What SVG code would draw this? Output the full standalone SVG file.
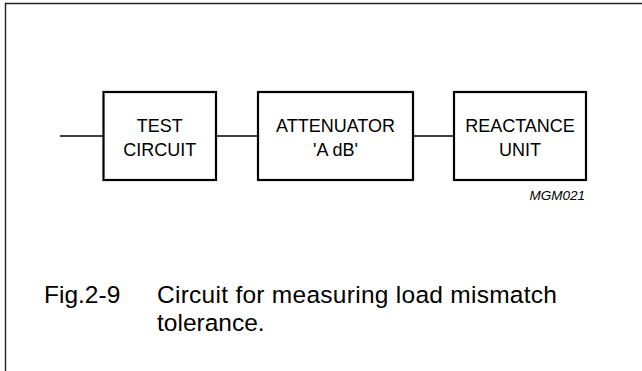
<svg xmlns="http://www.w3.org/2000/svg" width="642" height="371" viewBox="0 0 642 371">
<style>
.box{fill:#fff;stroke:#000;stroke-width:2.2}
.wire{fill:none;stroke:#000;stroke-width:1.3}
.lbl{font-family:"Liberation Sans",Arial,sans-serif;font-size:18px;fill:#000;text-anchor:middle}
.cap{font-family:"Liberation Sans",Arial,sans-serif;font-size:24.5px;fill:#000}
.code{font-family:"Liberation Sans",Arial,sans-serif;font-size:13.5px;font-style:italic;fill:#000;text-anchor:end}
</style>
<rect width="642" height="371" fill="#fff"/>
<path d="M5.5,371 V3.5 H642" fill="none" stroke="#222" stroke-width="1.4"/>
<g id="connectors">
<line class="wire" x1="60" y1="136" x2="103.5" y2="136"/>
<line class="wire" x1="216" y1="136" x2="258" y2="136"/>
<line class="wire" x1="413" y1="136" x2="454" y2="136"/>
</g>
<g id="test-circuit">
<rect class="box" x="103.5" y="92" width="112.5" height="88"/>
<text class="lbl" x="159.75" y="131.5">TEST</text>
<text class="lbl" x="159.75" y="156">CIRCUIT</text>
</g>
<g id="attenuator">
<rect class="box" x="258" y="92" width="155" height="88"/>
<text class="lbl" x="335.5" y="131.5">ATTENUATOR</text>
<text class="lbl" x="335.5" y="155.5">'A dB'</text>
</g>
<g id="reactance-unit">
<rect class="box" x="454" y="92" width="132" height="88"/>
<text class="lbl" x="520" y="131.5">REACTANCE</text>
<text class="lbl" x="520" y="156">UNIT</text>
</g>
<text class="code" x="585" y="200">MGM021</text>
<text class="cap" x="44" y="302.7">Fig.2-9</text>
<text class="cap" x="157" y="302.7" textLength="400" lengthAdjust="spacing">Circuit for measuring load mismatch</text>
<text class="cap" x="157" y="331">tolerance.</text>
</svg>
